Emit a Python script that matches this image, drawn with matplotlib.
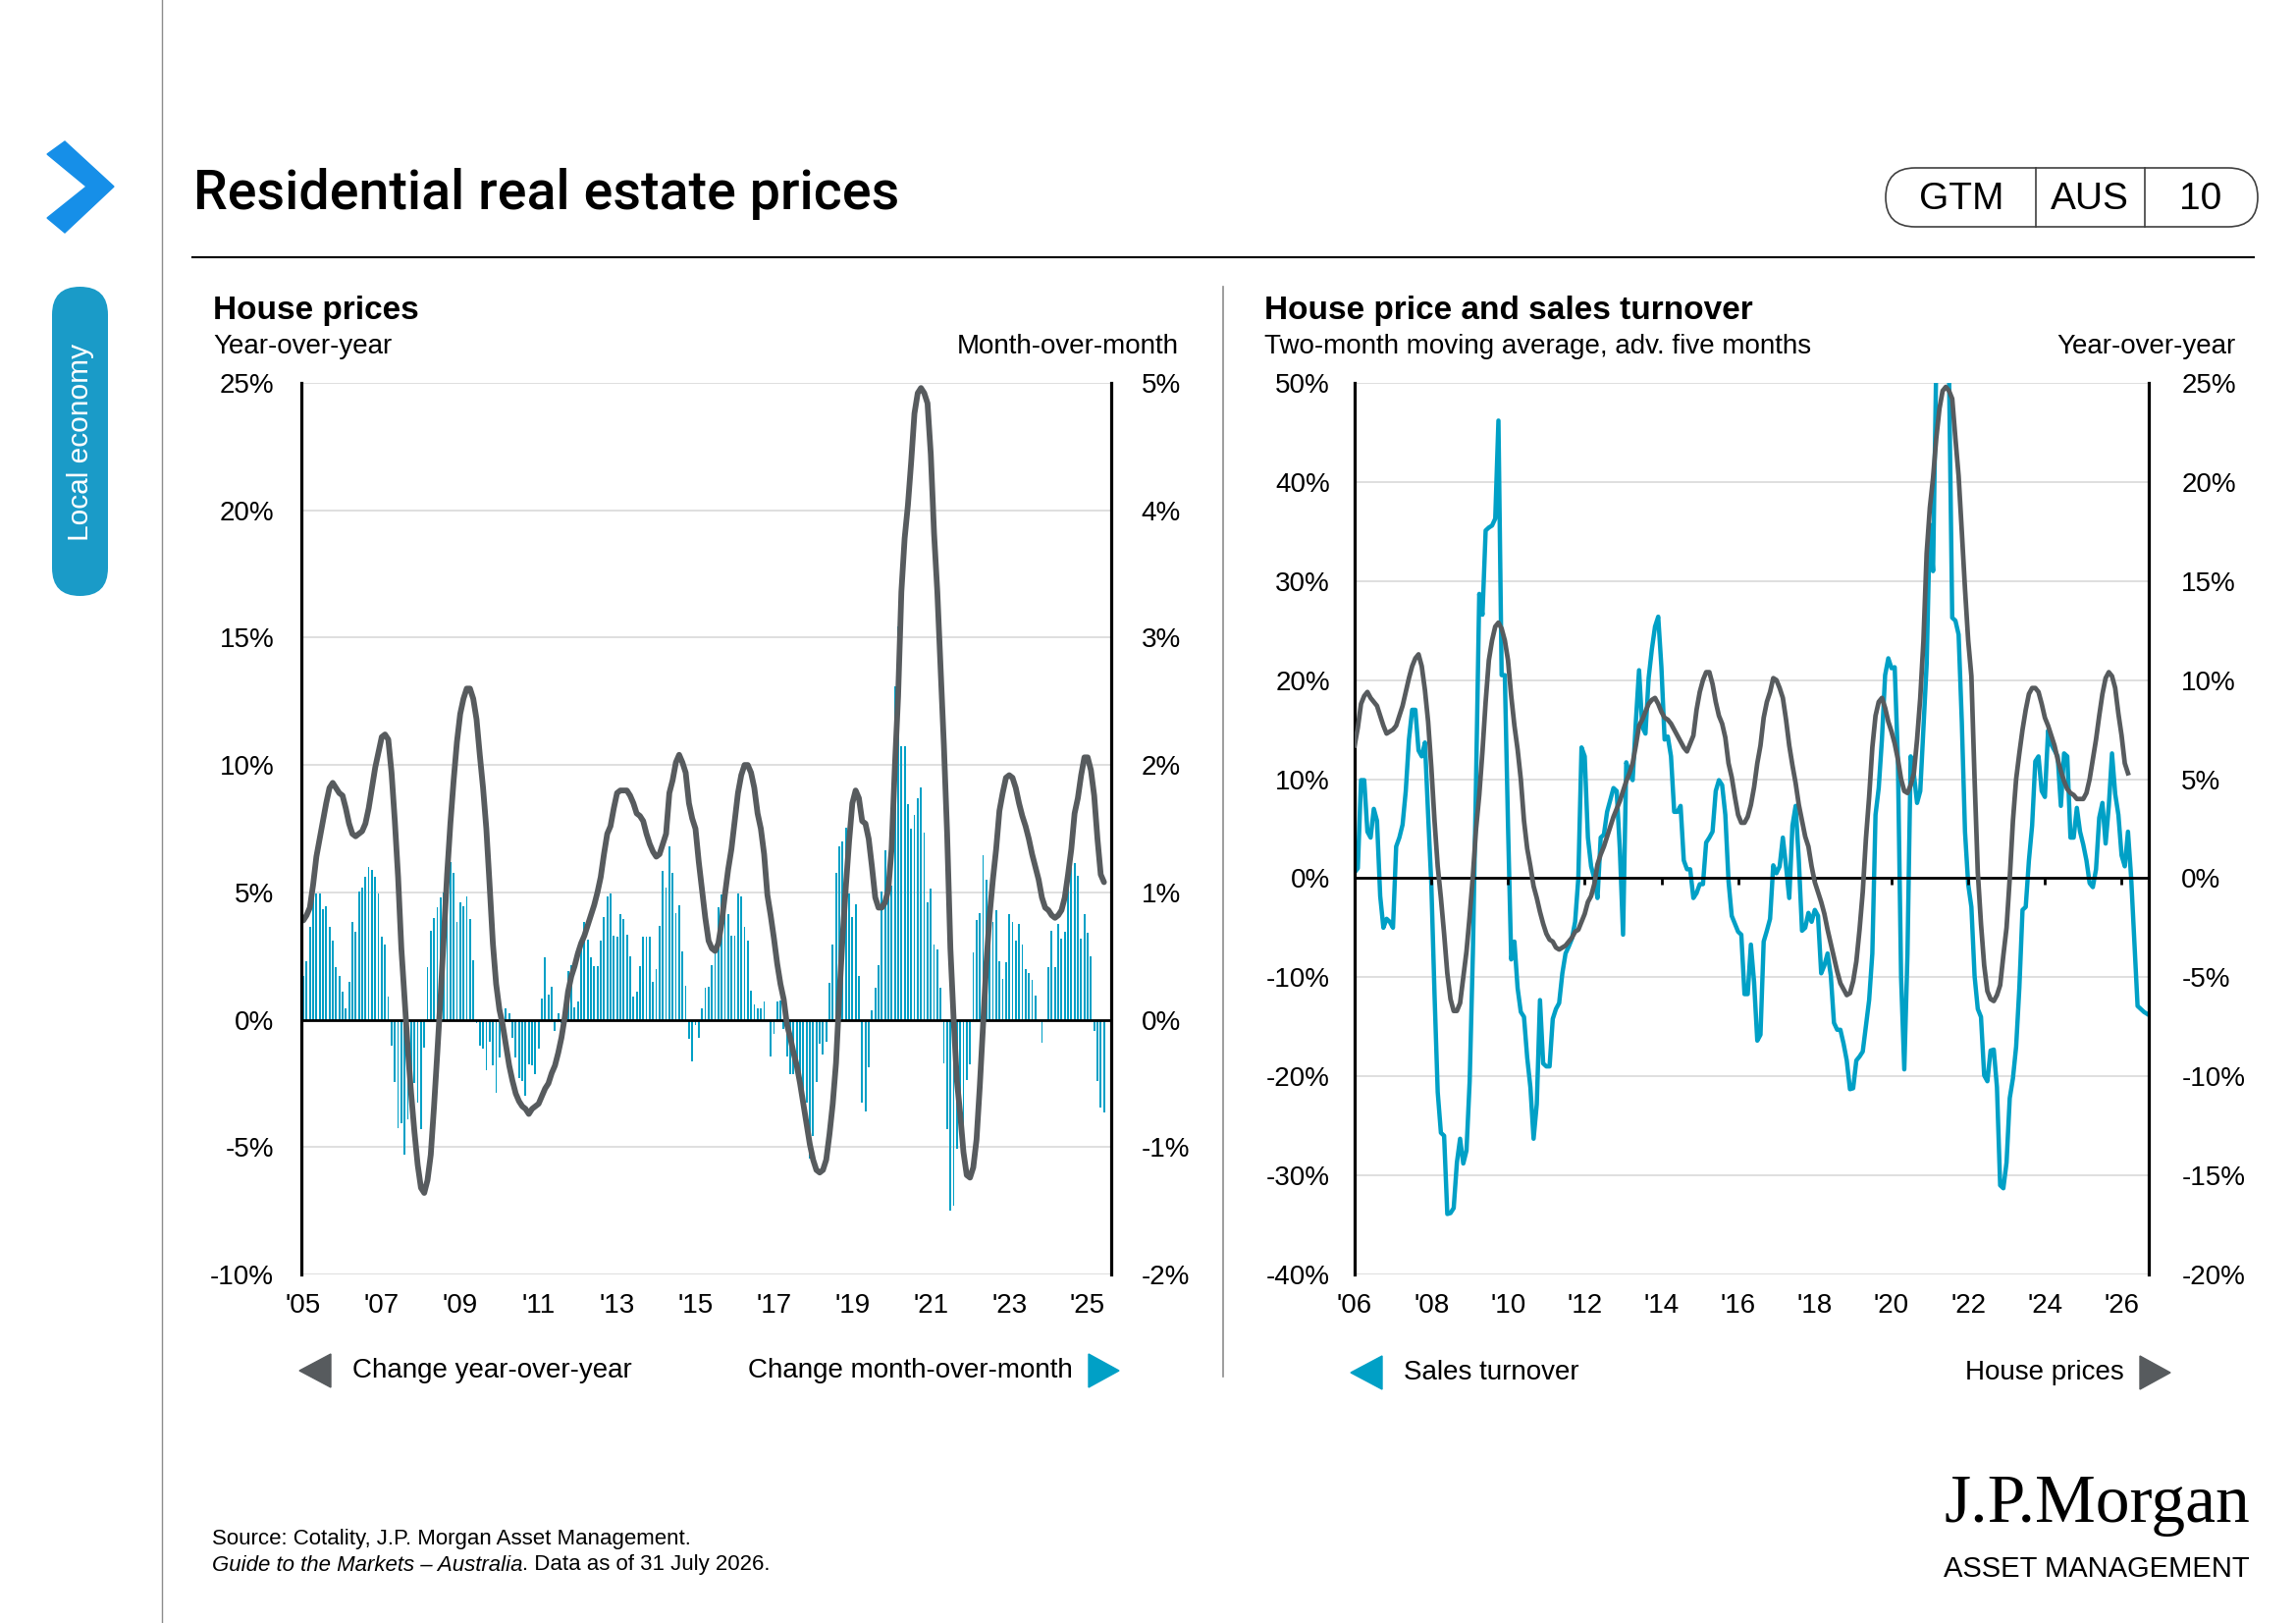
import numpy as np
import matplotlib
matplotlib.use("Agg")
import matplotlib.pyplot as plt
from matplotlib.patches import FancyBboxPatch, Polygon

plt.rcParams['font.family'] = ['Liberation Sans', 'DejaVu Sans']

# ---- data: left chart, monthly from Jan 2005 ----
mom_change = [
    0.34, 0.46, 0.73, 1.15, 0.99, 0.99, 0.87, 0.89, 0.73, 0.62,
    0.41, 0.34, 0.22, 0.09, 0.30, 0.77, 0.69, 1.01, 1.04, 1.12,
    1.20, 1.18, 1.12, 0.99, 0.65, 0.59, 0.18, -0.20, -0.49, -0.85,
    -0.81, -1.06, -0.78, -0.62, -0.50, -0.65, -0.86, -0.22, 0.41, 0.70,
    0.80, 0.88, 0.96, 1.00, 1.32, 1.24, 1.15, 0.77, 0.92, 0.89,
    0.97, 0.79, 0.47, -0.03, -0.20, -0.23, -0.40, -0.17, -0.36, -0.57,
    -0.30, 0.00, 0.09, 0.05, -0.14, -0.30, -0.46, -0.48, -0.60, -0.35,
    -0.36, -0.43, -0.23, 0.17, 0.49, 0.20, 0.26, -0.09, 0.05, -0.03,
    0.09, 0.38, 0.43, 0.10, 0.14, 0.60, 0.77, 0.63,
    0.49, 0.42, 0.42, 0.62, 0.81, 0.97, 0.99, 0.66, 0.65, 0.83,
    0.79, 0.67, 0.50, 0.18, 0.22, 0.42, 0.65, 0.65, 0.65, 0.30,
    0.40, 0.74, 1.17, 1.04, 1.36, 1.15, 0.84, 0.90, 0.54, 0.27,
    -0.15, -0.33, -0.04, -0.14, 0.09, 0.25, 0.26, 0.43, 0.55, 0.88,
    0.98, 1.11, 0.83, 0.66, 0.66, 0.99, 0.97, 0.73, 0.62, 0.23,
    0.12, 0.09, 0.09, 0.14, 0.00, -0.29, -0.11, 0.14, 0.15, -0.07,
    -0.29, -0.43, -0.43, -0.35, -0.52, -0.62, -0.65, -1.09, -0.91, -0.49,
    -0.19, -0.27, -0.17, 0.29, 0.59, 1.15, 1.36, 1.40, 1.51, 0.99,
    0.81, 0.91, 0.34, -0.65, -0.72,
    -0.37, 0.07, 0.25, 0.43, 1.01, 1.33, 1.17, 1.05, 2.62, 3.09,
    2.15, 2.15, 1.69, 1.50, 1.61, 1.74, 1.82, 1.47, 0.92, 1.03,
    0.59, 0.55, 0.25, -0.34, -0.86, -1.50, -1.46, -1.01, -0.71, -0.84,
    -0.47, -0.35, 0.53, 0.78, 0.84, 1.29, 1.10, 0.81, 0.77, 0.86,
    0.46, 0.32, 0.45, 0.83, 0.77, 0.62, 0.75, 0.59, 0.40, 0.37,
    0.31, 0.19, 0.00, -0.18, 0.00, 0.41, 0.70, 0.41, 0.75, 0.64,
    0.69, 1.05, 1.20, 1.23, 1.13, 0.64, 0.83, 0.68, 0.50, -0.09,
    -0.48, -0.69, -0.73,
]

yoy_change = [
    3.9, 4.1, 4.4, 5.3, 6.4, 7.1, 7.8, 8.5, 9.1, 9.3,
    9.1, 8.9, 8.8, 8.3, 7.7, 7.3, 7.2, 7.3, 7.4, 7.7,
    8.3, 9.1, 9.9, 10.5, 11.1, 11.2, 11.0, 9.7, 7.8, 5.6,
    2.8, 0.8, -1.2, -2.9, -4.4, -5.7, -6.6, -6.8, -6.3, -5.3,
    -3.4, -1.3, 0.9, 3.3, 5.7, 7.7, 9.4, 10.9, 12.0, 12.6,
    13.0, 13.0, 12.6, 11.8, 10.4, 9.1, 7.5, 5.3, 3.0, 1.4,
    0.4, -0.2, -1.0, -1.8, -2.4, -2.9, -3.2, -3.4, -3.5, -3.7,
    -3.5, -3.4, -3.3, -3.0, -2.7, -2.5, -2.1, -1.8, -1.3, -0.7,
    0.1, 1.1, 1.7, 2.1, 2.6, 3.0, 3.3,
    3.7, 4.1, 4.5, 5.0, 5.6, 6.5, 7.3, 7.6, 8.3, 8.9,
    9.0, 9.0, 9.0, 8.8, 8.5, 8.1, 8.0, 7.8, 7.3, 6.9,
    6.6, 6.4, 6.5, 6.9, 7.3, 8.9, 9.4, 10.1, 10.4, 10.1,
    9.7, 8.5, 7.9, 7.5, 6.2, 5.1, 4.0, 3.1, 2.8, 2.7,
    3.0, 3.8, 4.9, 5.9, 6.7, 7.8, 8.9, 9.6, 10.0, 10.0,
    9.7, 9.1, 8.1, 7.5, 6.5, 4.9, 4.1, 3.2, 2.2, 1.4,
    0.8, -0.2, -0.7, -1.3, -1.8, -2.5, -3.3, -4.1, -4.9, -5.5,
    -5.9, -6.0, -5.9, -5.5, -4.5, -3.3, -1.7, 0.9, 3.2, 5.2,
    7.0, 8.5, 9.0, 8.7, 7.8,
    7.7, 7.1, 6.0, 4.8, 4.4, 4.4, 4.6, 5.1, 6.7, 9.9,
    12.7, 16.8, 18.9, 20.2, 21.9, 23.8, 24.6, 24.8, 24.6, 24.2,
    22.2, 19.1, 16.8, 13.8, 10.8, 7.3, 2.8, 0.0, -2.4, -3.7,
    -5.2, -6.1, -6.2, -5.8, -4.7, -2.6, -0.2, 2.2, 4.1, 5.5,
    6.7, 8.2, 8.9, 9.5, 9.6, 9.5, 9.1, 8.5, 8.0, 7.6,
    7.1, 6.5, 6.0, 5.5, 4.8, 4.4, 4.3, 4.1, 4.0, 4.1,
    4.3, 4.8, 5.7, 6.7, 8.1, 8.7, 9.6, 10.3, 10.3, 9.8,
    8.8, 7.1, 5.7, 5.4,
]
left_years = ["'05", "'07", "'09", "'11", "'13", "'15", "'17", "'19", "'21", "'23", "'25"]

# ---- data: right chart, monthly from Jan 2006 ----
sales_turnover = [
    0.6, 1.0, 9.9, 9.9, 4.7, 4.1, 7.0, 5.8, -1.8, -5.0,
    -4.1, -4.4, -5.0, 3.2, 4.1, 5.4, 8.8, 14.0, 17.0, 17.0,
    12.9, 12.3, 13.7, 6.4, -0.6, -11.7, -21.6, -25.7, -26.0, -33.9,
    -33.8, -33.3, -28.7, -26.3, -28.8, -27.5, -20.5, -7.6, 9.9, 28.7,
    26.6, 35.1, 35.4, 35.6, 36.3, 46.2, 20.5, 20.5, 5.3, -8.2,
    -6.4, -11.1, -13.5, -14.0, -18.1, -21.1, -26.3, -22.8, -12.3, -18.7,
    -19.0, -19.0, -14.2, -13.2, -12.6, -9.6, -7.6, -6.9, -6.1, -4.4,
    0.0, 13.2, 12.3, 4.1, 1.2, 0.0, -2.0, 4.1, 4.4, 6.7,
    7.9, 9.1, 8.8, 2.9, -5.7, 11.7, 10.5, 9.9, 15.8, 21.0,
    15.3, 14.6, 20.2, 23.1, 25.4, 26.4, 21.3, 14.0, 14.3, 12.3,
    6.7, 6.7, 7.3, 1.8, 0.9, 0.9, -2.0, -1.5, -0.6, -0.6,
    3.6, 4.1, 4.7, 8.8, 9.9, 9.4, 6.4, -0.3, -3.8, -4.6,
    -5.4, -5.7, -11.7, -11.7, -6.7, -10.5, -16.4, -15.8, -6.4, -5.3,
    -4.1, 1.3, 0.5, 1.2, 4.1, 1.2, -2.0, 5.3, 7.3, 1.8,
    -5.3, -5.0, -3.5, -4.4, -3.2, -3.8, -9.6, -8.8, -7.6, -9.8,
    -14.6, -15.3, -15.3, -16.7, -18.4, -21.3, -21.2, -18.4, -18.0, -17.5,
    -14.9, -12.3, -7.6, 6.4, 9.1, 14.0, 20.5, 22.2, 21.2, 21.3,
    12.0, -10.0, -19.3,
    -7.6, 12.3, 10.5, 7.6, 8.8, 15.2, 21.6, 35.7, 31.0, 52.0,
    60.0, 62.0, 58.0, 51.0, 26.3, 26.0, 24.6, 15.8, 4.7, -0.6,
    -2.9, -9.9, -13.2, -14.0, -19.9, -20.5, -17.4, -17.3, -21.1, -31.0,
    -31.3, -28.7, -22.2, -20.2, -17.0, -11.1, -3.2, -2.9, 1.8, 5.3,
    11.8, 12.3, 8.8, 8.2, 14.9, 13.5, 12.9, 12.3, 7.3, 12.6,
    12.3, 4.1, 4.1, 7.1, 4.7, 3.4, 1.8, -0.5, -0.9, 0.9,
    6.1, 7.6, 3.5, 7.3, 12.6, 8.5, 6.4, 2.3, 1.2, 4.7,
    0.0, -6.4, -12.9, -13.2, -13.5, -13.7,
]

house_prices = [
    6.7, 7.6, 8.8, 9.2, 9.4, 9.1, 8.9, 8.7, 8.2, 7.7,
    7.3, 7.4, 7.5, 7.7, 8.2, 8.7, 9.4, 10.1, 10.7, 11.1,
    11.3, 10.7, 9.5, 7.9, 5.6, 2.9, 0.6, -1.0, -2.8, -4.8,
    -6.1, -6.7, -6.7, -6.3, -5.0, -3.7, -1.9, 0.1, 2.5, 4.2,
    6.4, 8.9, 11.0, 12.0, 12.7, 12.9, 12.6, 12.0, 11.0, 9.2,
    7.7, 6.5, 5.0, 2.9, 1.5, 0.6, -0.4, -1.0, -1.7, -2.3,
    -2.8, -3.1, -3.2, -3.5, -3.6, -3.5, -3.4, -3.2, -3.0, -2.7,
    -2.6, -2.2, -1.8, -1.2, -0.9, -0.3, 0.7, 1.2, 1.6, 2.1,
    2.6, 3.1, 3.5, 3.9, 4.4, 4.9, 5.3, 5.8, 6.7, 7.7,
    8.0, 8.4, 8.8, 9.0, 9.1, 8.8, 8.4, 8.1, 8.0, 7.8,
    7.5, 7.2, 6.9, 6.6, 6.4, 6.8, 7.2, 8.5, 9.4, 10.0,
    10.4, 10.4, 9.8, 8.9, 8.2, 7.8, 7.1, 5.8, 5.1, 4.1,
    3.2, 2.8, 2.8, 3.1, 3.7, 4.6, 5.8, 6.7, 8.1, 8.9,
    9.4, 10.1, 10.0, 9.6, 9.1, 8.0, 6.7, 5.7, 4.8, 3.7,
    2.9, 2.1, 1.6, 0.6, -0.2, -0.7, -1.2, -1.8, -2.6, -3.3,
    -4.0, -4.7, -5.3, -5.6, -5.9, -5.8, -5.2, -4.2, -2.6, -0.7,
    2.0, 4.1, 6.6, 8.2, 8.9, 9.1, 8.6, 7.9, 7.4, 6.8,
    6.0, 5.0, 4.4,
    4.3, 4.7, 5.3, 7.0, 9.1, 12.0, 16.4, 18.7, 20.2, 22.2,
    23.7, 24.6, 24.8, 24.6, 24.2, 22.2, 20.3, 17.5, 14.6, 12.0,
    10.2, 5.0, 0.3, -2.3, -4.4, -5.7, -6.1, -6.2, -5.9, -5.4,
    -3.9, -2.5, 0.0, 2.9, 5.0, 6.3, 7.5, 8.5, 9.3, 9.6,
    9.6, 9.4, 8.8, 8.1, 7.7, 7.2, 6.7, 6.0, 5.4, 4.9,
    4.5, 4.3, 4.2, 4.0, 4.0, 4.0, 4.3, 5.0, 6.0, 7.0,
    8.2, 9.3, 10.1, 10.4, 10.2, 9.6, 8.3, 7.2, 5.8, 5.3,
]
right_years = ["'06", "'08", "'10", "'12", "'14", "'16", "'18", "'20", "'22", "'24", "'26"]

BLUE = '#00a0c6'
GREY = '#575b5e'
GRID = '#d9d9d9'
W, H = 2339, 1653

fig = plt.figure(figsize=(W / 100, H / 100), dpi=100)

# background axes in pixel coordinates for page furniture
bg = fig.add_axes([0, 0, 1, 1])
bg.set_xlim(0, W)
bg.set_ylim(H, 0)
bg.axis('off')
bg.set_zorder(0)

bg.plot([165, 165], [0, H], color='#8c8c8c', lw=1.0)
bg.add_patch(Polygon([(48, 157), (66, 144), (116, 190), (66, 237), (48, 222), (88, 190)],
                     closed=True, color='#168fe8'))
bg.add_patch(FancyBboxPatch((53, 292), 57, 315, boxstyle='round,pad=0,rounding_size=28.5',
                            fc='#1a9bc8', ec='none'))
bg.text(82, 450, 'Local economy', rotation=90, color='white', fontsize=21.5,
        ha='center', va='center')

bg.text(197, 198, 'Residential real estate prices', fontsize=40,
        family=['Roboto', 'Liberation Sans'], fontweight='medium', va='center', ha='left')
bg.plot([196, 2296], [262, 262], color='black', lw=1.5)

bg.add_patch(FancyBboxPatch((1921, 171), 379, 60, boxstyle='round,pad=0,rounding_size=30',
                            fc='white', ec='#404040', lw=1.2))
bg.plot([2074, 2074], [171, 231], color='#404040', lw=1.2)
bg.plot([2185, 2185], [171, 231], color='#404040', lw=1.2)
for txt, xc in [('GTM', 1998), ('AUS', 2129), ('10', 2242)]:
    bg.text(xc, 203, txt, fontsize=28, ha='center', va='center')

bg.plot([1246, 1246], [292, 1402], color='#8c8c8c', lw=1.2)

# panel headers
bg.text(217, 316, 'House prices', fontsize=24, fontweight='bold', va='center')
bg.text(217, 353, 'Year-over-year', fontsize=20, va='center')
bg.text(1201, 353, 'Month-over-month', fontsize=20, va='center', ha='right')
bg.text(1288, 316, 'House price and sales turnover', fontsize=24, fontweight='bold', va='center')
bg.text(1288, 353, 'Two-month moving average, adv. five months', fontsize=20, va='center')
bg.text(2278, 353, 'Year-over-year', fontsize=20, va='center', ha='right')

# legends
bg.add_patch(Polygon([(305, 1396), (337, 1379), (337, 1413)], closed=True, color=GREY))
bg.text(359, 1396, 'Change year-over-year', fontsize=20, va='center')
bg.text(1093, 1396, 'Change month-over-month', fontsize=20, va='center', ha='right')
bg.add_patch(Polygon([(1109, 1379), (1109, 1413), (1140, 1396)], closed=True, color=BLUE))

bg.add_patch(Polygon([(1376, 1398), (1408, 1381), (1408, 1415)], closed=True, color=BLUE))
bg.text(1430, 1398, 'Sales turnover', fontsize=20, va='center')
bg.text(2164, 1398, 'House prices', fontsize=20, va='center', ha='right')
bg.add_patch(Polygon([(2180, 1381), (2180, 1415), (2211, 1398)], closed=True, color=GREY))

# footer
bg.text(216, 1568, 'Source: Cotality, J.P. Morgan Asset Management.', fontsize=16, va='center')
t_it = bg.text(216, 1594, 'Guide to the Markets \u2013 Australia', fontsize=16,
               style='italic', va='center')
fig.canvas.draw()
bb = t_it.get_window_extent(renderer=fig.canvas.get_renderer())
bg.text(216 + bb.width, 1594, '. Data as of 31 July 2026.', fontsize=16, va='center')

bg.text(2292, 1550, 'J.P.Morgan', fontsize=50, family=['Liberation Serif', 'DejaVu Serif'],
        ha='right', va='baseline')
bg.text(2292, 1598, 'ASSET MANAGEMENT', fontsize=21, ha='right', va='center')


def style_axes(ax, twin):
    for a in (ax, twin):
        a.set_facecolor('none')
        a.spines['top'].set_visible(False)
        a.spines['bottom'].set_visible(False)
        a.tick_params(axis='both', length=0, labelsize=20)
    ax.spines['right'].set_visible(False)
    twin.spines['left'].set_visible(False)
    ax.spines['left'].set_linewidth(2.3)
    twin.spines['right'].set_linewidth(2.3)


# ---- left chart ----
axL = fig.add_axes([307 / W, 1 - 1298 / H, 825 / W, 908 / H])
axL2 = axL.twinx()
axL2.set_zorder(1)
axL.set_zorder(2)
style_axes(axL, axL2)

xl = np.arange(len(mom_change))
axL2.bar(xl, mom_change, width=0.55, color=BLUE, zorder=2)
axL2.axhline(0, color='black', lw=2.0, zorder=3)
axL2.set_ylim(-2, 5)
axL2.set_yticks(range(-2, 6))
axL2.set_yticklabels([f'{v}%' for v in range(-2, 6)])
axL2.yaxis.grid(True, color=GRID, lw=1.2)
axL2.set_axisbelow(True)
axL2.tick_params(axis='y', pad=22)

axL.plot(np.arange(len(yoy_change)), yoy_change, color=GREY, lw=4.2, solid_capstyle='round')
axL.set_ylim(-10, 25)
axL.set_yticks(range(-10, 30, 5))
axL.set_yticklabels([f'{v}%' for v in range(-10, 30, 5)])
axL.tick_params(axis='y', pad=20)
axL.set_xlim(-0.6, 247.2)
axL.set_xticks(range(0, 241, 24))
axL.set_xticklabels(left_years)
axL.tick_params(axis='x', pad=14)

# ---- right chart ----
axR = fig.add_axes([1380 / W, 1 - 1298 / H, 809 / W, 908 / H])
axR2 = axR.twinx()
axR.set_zorder(1)
axR2.set_zorder(2)
style_axes(axR, axR2)

axR.plot(np.arange(len(sales_turnover)), sales_turnover, color=BLUE, lw=3.2)
axR.axhline(0, color='black', lw=2.0, zorder=3)
xt = np.arange(0, 241, 24)
axR.plot(xt, np.zeros(len(xt)), ls='none', marker=3, ms=5, mew=2, color='black', zorder=3)
axR.set_ylim(-40, 50)
axR.set_yticks(range(-40, 60, 10))
axR.set_yticklabels([f'{v}%' for v in range(-40, 60, 10)])
axR.yaxis.grid(True, color=GRID, lw=1.2)
axR.set_axisbelow(True)
axR.tick_params(axis='y', pad=18)
axR.set_xlim(0.2, 248.5)
axR.set_xticks(xt)
axR.set_xticklabels(right_years)
axR.tick_params(axis='x', pad=14)

axR2.plot(np.arange(len(house_prices)), house_prices, color=GREY, lw=3.4)
axR2.set_ylim(-20, 25)
axR2.set_yticks(range(-20, 30, 5))
axR2.set_yticklabels([f'{v}%' for v in range(-20, 30, 5)])
axR2.tick_params(axis='y', pad=24)

fig.savefig('out.png', dpi=100)
